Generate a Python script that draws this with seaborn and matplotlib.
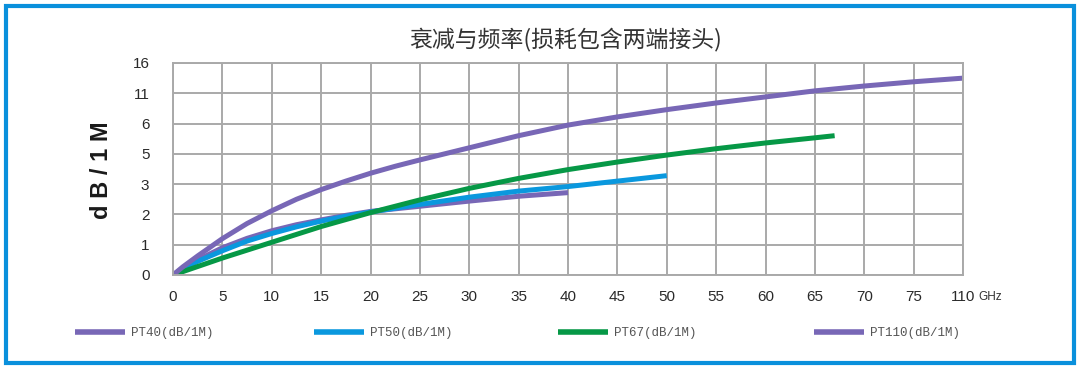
import numpy as np
import pandas as pd
import matplotlib
matplotlib.use("Agg")
import matplotlib.pyplot as plt
import seaborn as sns
from matplotlib.lines import Line2D
from matplotlib.patches import Rectangle

sns.set_theme(style="white")
plt.rcParams['font.family'] = ['Liberation Sans', 'Noto Sans CJK SC', 'DejaVu Sans']

# axis ticks (the chart uses evenly spaced, non-linear ticks)
x_ticks = [0, 5, 10, 15, 20, 25, 30, 35, 40, 45, 50, 55, 60, 65, 70, 75, 110]
y_ticks = [0, 1, 2, 3, 5, 6, 11, 16]

# attenuation readings, dB/1M vs GHz
pt40_f = [0, 1, 2.5, 5, 7.5, 10, 12.5, 15, 17.5, 20, 25, 30, 35, 40]
pt40_db = [0, 0.22, 0.5, 0.9, 1.21, 1.46, 1.66, 1.82, 1.97, 2.1, 2.27, 2.44, 2.6, 2.72]

pt50_f = [0, 1, 2.5, 5, 7.5, 10, 12.5, 15, 17.5, 20, 25, 30, 35, 40, 45, 50]
pt50_db = [0, 0.2, 0.45, 0.8, 1.12, 1.37, 1.59, 1.78, 1.94, 2.08, 2.33, 2.57, 2.77, 2.92, 3.2, 3.56]

pt67_f = [0, 2.5, 5, 10, 15, 20, 25, 30, 35, 40, 45, 50, 55, 60, 65, 67]
pt67_db = [0, 0.28, 0.56, 1.08, 1.6, 2.06, 2.48, 2.86, 3.38, 3.96, 4.46, 4.92, 5.17, 5.36, 5.53, 5.6]

pt110_f = [0, 1, 2.5, 5, 7.5, 10, 12.5, 15, 17.5, 20, 22.5, 25, 30, 35, 40, 45, 50, 55,
           60, 65, 70, 75, 110]
pt110_db = [0, 0.27, 0.63, 1.2, 1.7, 2.12, 2.5, 2.82, 3.2, 3.72, 4.18, 4.6, 5.2, 5.6, 5.95,
            7.1, 8.3, 9.4, 10.4, 11.4, 12.2, 12.9, 13.5]

names = ['PT40(dB/1M)', 'PT50(dB/1M)', 'PT67(dB/1M)', 'PT110(dB/1M)']
colors = ['#7867b6', '#0a98de', '#069846', '#7867b6']

frames = []
for name, f, db in zip(names, [pt40_f, pt50_f, pt67_f, pt110_f],
                       [pt40_db, pt50_db, pt67_db, pt110_db]):
    frames.append(pd.DataFrame({'freq': f, 'loss': db, 'cable': name}))
df = pd.concat(frames, ignore_index=True)

xpos = np.arange(len(x_ticks))
ypos = np.arange(len(y_ticks))


def fx(v):
    return np.interp(v, x_ticks, xpos)


def fx_inv(p):
    return np.interp(p, xpos, x_ticks)


def fy(v):
    return np.interp(v, y_ticks, ypos)


def fy_inv(p):
    return np.interp(p, ypos, y_ticks)


fig = plt.figure(figsize=(10.8, 3.69), dpi=100)
ax = fig.add_axes([173 / 1080, 1 - 275 / 369, 790 / 1080, 212 / 369])

ax.set_xscale('function', functions=(fx, fx_inv))
ax.set_yscale('function', functions=(fy, fy_inv))

sns.lineplot(data=df, x='freq', y='loss', hue='cable', hue_order=names,
             palette=dict(zip(names, colors)), linewidth=3.6, sort=False,
             estimator=None, legend=False, ax=ax)
for ln in ax.get_lines():
    ln.set_solid_joinstyle('round')
    ln.set_solid_capstyle('butt')

ax.set_xlim(0, 110)
ax.set_ylim(0, 16)
ax.set_xticks(x_ticks)
ax.set_xticklabels([str(t) for t in x_ticks])
ax.set_yticks(y_ticks)
ax.set_yticklabels([str(t) for t in y_ticks])
ax.minorticks_off()
ax.set_xlabel('')
ax.set_ylabel('')

grid_c = '#a9a9a9'
ax.grid(True, color=grid_c, linewidth=1.4)
ax.set_axisbelow(True)
for s in ax.spines.values():
    s.set_color(grid_c)
    s.set_linewidth(1.4)
ax.tick_params(axis='both', length=0, labelsize=11, labelcolor='#2a2a2a')
ax.tick_params(axis='y', pad=17)
ax.tick_params(axis='x', pad=11)

fig.text(566 / 1080, 1 - 39 / 369, '衰减与频率(损耗包含两端接头)',
         fontsize=16.5, color='#333333', ha='center', va='center',
         family=['Noto Sans CJK SC', 'DejaVu Sans'])
fig.text(102 / 1080, 1 - 170 / 369, 'd B / 1 M', rotation=90, fontsize=17,
         fontweight='bold', color='#1a1a1a', ha='center', va='center')
fig.text(978 / 1080, 1 - 297 / 369, 'GHz', fontsize=8.5, color='#333333',
         ha='left', va='center')

# one legend entry each, placed where the reference puts them
legend_x = [75, 314, 558, 814]
for name, c, lx in zip(names, colors, legend_x):
    h = Line2D([], [], color=c, linewidth=4, solid_capstyle='butt')
    fig.legend([h], [name], loc='center left',
               bbox_to_anchor=(lx / 1080, 1 - 333 / 369), frameon=False,
               borderpad=0, borderaxespad=0, handlelength=4.0, handletextpad=0.5,
               prop={'family': 'Liberation Mono', 'size': 9}, labelcolor='#555555')

fig.add_artist(Rectangle((6 / 1080, 6 / 369), 1068 / 1080, 357 / 369,
                         transform=fig.transFigure, fill=False,
                         edgecolor='#0a90dc', linewidth=3))

fig.savefig('out.png', dpi=100)
